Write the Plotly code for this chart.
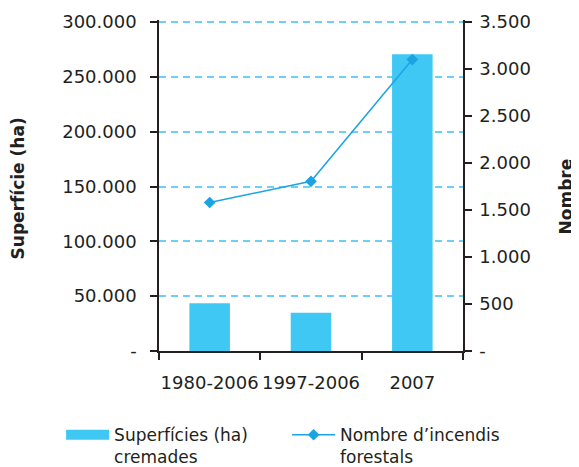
import plotly.graph_objects as go

categories = ["1980-2006", "1997-2006", "2007"]
area_ha = [43500, 34800, 270500]
fires = [1580, 1805, 3100]

left_ticks = [0, 50000, 100000, 150000, 200000, 250000, 300000]
left_ticktext = ["-", "50.000", "100.000", "150.000", "200.000", "250.000", "300.000"]
right_ticks = [0, 500, 1000, 1500, 2000, 2500, 3000, 3500]
right_ticktext = ["-", "500", "1.000", "1.500", "2.000", "2.500", "3.000", "3.500"]

FONT = "DejaVu Sans"
TXT = "#231f20"
BAR = "#40c8f4"
LINE = "#1ba3e2"

# plot area a touch taller than the tick span so the top gridline is kept
PLOT_H = 331
TICK_SPAN = 329
left_range = [0, left_ticks[-1] * PLOT_H / TICK_SPAN]
right_range = [0, right_ticks[-1] * PLOT_H / TICK_SPAN]

fig = go.Figure()
fig.add_trace(go.Bar(
    x=categories, y=area_ha, name="Superfícies (ha)<br>cremades",
    marker=dict(color=BAR, line=dict(width=0)), width=0.4, yaxis="y",
    showlegend=False,
))
# legend swatch for the bars (wide rectangle like the original)
fig.add_trace(go.Scatter(
    x=[None], y=[None], name="Superfícies (ha)<br>cremades", mode="lines",
    line=dict(color=BAR, width=12), yaxis="y", showlegend=True,
))
fig.add_trace(go.Scatter(
    x=categories, y=fires, name="Nombre d’incendis<br>forestals",
    mode="lines+markers", line=dict(color=LINE, width=1.5),
    marker=dict(symbol="diamond", size=9, color=LINE), yaxis="y2",
))

axis_line = dict(showline=True, linecolor="#231f20", linewidth=1.5)
tick_style = dict(ticklen=7, tickwidth=1.5, tickcolor=TXT)

fig.update_layout(
    width=571, height=459,
    margin=dict(l=151, r=116, t=12, b=116, autoexpand=False),
    paper_bgcolor="white", plot_bgcolor="white",
    font=dict(family=FONT, size=18, color=TXT),
    showlegend=True,
    legend=dict(orientation="h", x=-0.322, xanchor="left", y=-0.2, yanchor="top",
                font=dict(size=17, color=TXT), entrywidth=168, itemwidth=43,
                valign="top", tracegroupgap=0, bgcolor="rgba(0,0,0,0)"),
    xaxis=dict(type="category", tickson="boundaries", ticks="outside",
               ticklabelstandoff=15, tickangle=0, automargin=False,
               showgrid=False, zeroline=False, **tick_style, **axis_line),
    xaxis2=dict(overlaying="x", anchor="y", side="bottom", range=[-0.5, 2.5],
                tickmode="array", tickvals=[-0.5, 0.5, 1.5, 2.5], ticks="inside",
                showticklabels=False, showgrid=False, zeroline=False,
                showline=False, automargin=False, **tick_style),
    yaxis=dict(range=left_range, tickmode="array", tickvals=left_ticks,
               ticktext=left_ticktext, ticks="outside", ticklabelstandoff=10,
               automargin=False,
               showgrid=True, gridcolor="#6dcff6", gridwidth=1.5, griddash="7px,5px",
               zeroline=False, **tick_style, **axis_line),
    yaxis2=dict(range=right_range, overlaying="y", side="right", tickmode="array",
                tickvals=right_ticks, ticktext=right_ticktext, ticks="outside",
                ticklabelstandoff=4, automargin=False,
                showgrid=False, zeroline=False, **tick_style, **axis_line),
    yaxis3=dict(range=left_range, overlaying="y", side="left", anchor="x",
                tickmode="array", tickvals=left_ticks, ticks="inside",
                showticklabels=False, showgrid=False, zeroline=False,
                showline=False, automargin=False, **tick_style),
    yaxis4=dict(range=right_range, overlaying="y", side="right", anchor="x",
                tickmode="array", tickvals=right_ticks, ticks="inside",
                showticklabels=False, showgrid=False, zeroline=False,
                showline=False, automargin=False, **tick_style),
    annotations=[
        dict(text="<b>Superfície (ha)</b>", xref="paper", yref="paper",
             x=-0.465, y=0.49, textangle=-90, showarrow=False,
             font=dict(size=17, color=TXT), xanchor="center", yanchor="middle"),
        dict(text="<b>Nombre</b>", xref="paper", yref="paper",
             x=1.34, y=0.468, textangle=-90, showarrow=False,
             font=dict(size=17, color=TXT), xanchor="center", yanchor="middle"),
    ],
)

fig.write_html("out.html")
